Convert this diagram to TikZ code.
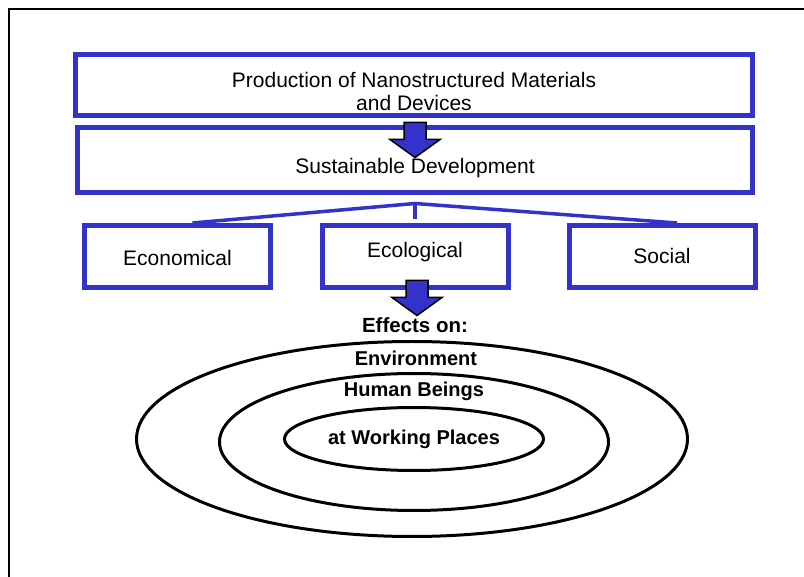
\documentclass[tikz,border=0pt]{standalone}
\usepackage{fontspec}
\setmainfont{Liberation Sans}
\usetikzlibrary{shapes.geometric,positioning}
\definecolor{boxblue}{RGB}{51,51,204}

\begin{document}
\begin{tikzpicture}[
        x=1pt, y=-1pt,
        font=\fontsize{21}{23}\selectfont,
        blue box/.style={draw=boxblue, line width=5pt, inner sep=0pt},
        row box/.style={blue box, minimum width=186pt, minimum height=62pt},
        box text/.style={align=center, inner sep=0pt},
        ring/.style={draw=black, line width=3pt, ellipse, inner sep=0pt},
        ring text/.style={font=\fontsize{20}{24}\selectfont\bfseries, inner sep=0pt},
        branch/.style={draw=boxblue, line width=3.5pt},
        fat arrow/.pic={
            \draw[line width=1.5pt, fill=boxblue, line join=miter]
                (-11,0) -- (11,0) -- (11,17) -- (25,17) -- (0,35) -- (-25,17) -- (-11,17) -- cycle;
        },
    ]

    \useasboundingbox (0,0) rectangle (804,577);

    % khung ngoai (chi canh tren va canh trai)
    \draw[line width=2pt] (9,577) -- (9,9) -- (804,9);

    % hai hop lon
    \node[blue box, minimum width=677pt, minimum height=61pt] (prod) at (414,85) {};
    \node[box text] (prodtext) at ([yshift=-6.5pt]prod.center)
        {Production of Nanostructured Materials\\and Devices};

    \node[blue box, minimum width=675pt, minimum height=65pt] (sust) at (415,160) {};
    \node[box text] (susttext) at ([yshift=-8pt]sust.center) {Sustainable Development};

    % ba hop: ten / tam x / dich chu
    \foreach \name/\xc/\dy/\txt in {econ/177.5/-1.5/Economical, ecol/415/4.5/Ecological, social/662/0.5/Social} {
        \node[row box] (\name) at (\xc,256.5) {};
        \node[box text] (\name text) at ([yshift=\dy pt]\name.center) {\txt};
    }

    % nhanh noi
    \coordinate (fork) at ([yshift=-8.5pt]sust.south);
    \draw[branch] ([xshift=15pt]econ.north) -- (fork) -- ([xshift=15pt]social.north);
    \draw[branch] (fork) -- ([yshift=4pt]ecol.north);

    % mui ten khoi
    \pic at ([yshift=2.5pt]sust.north) {fat arrow};
    \pic at ([xshift=2pt, yshift=9.5pt]ecol.south) {fat arrow};

    % cac vong anh huong
    \node[font=\fontsize{20.5}{24}\selectfont\bfseries, inner sep=0pt] (effects) at (415,325) {Effects on:};
    \node[ring, minimum width=551pt, minimum height=195pt] (env) at (412,439) {};
    \node[ring, minimum width=389pt, minimum height=137pt] (human) at (414,442) {};
    \node[ring, ring text, minimum width=259pt, minimum height=63pt] (work) at (414,439) {at Working Places};
    \node[ring text] (envtext) at (416,358) {Environment};
    \node[ring text] (humantext) at (414,391) {Human Beings};

\end{tikzpicture}
\end{document}
